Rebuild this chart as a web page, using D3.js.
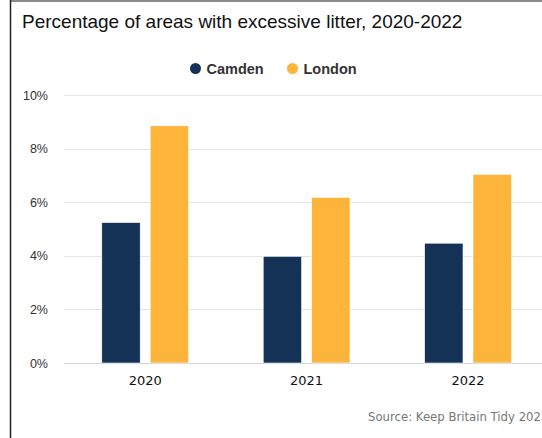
<!DOCTYPE html>
<html><head><meta charset="utf-8">
<script src="https://cdn.jsdelivr.net/npm/d3@7"></script>
<style>body{margin:0;background:#fff}svg{display:block}</style>
</head><body><svg id="c" width="542" height="438"></svg>
<script>
const years = ["2020", "2021", "2022"];
const seriesNames = ["Camden", "London"];
const camden = [5.24, 3.98, 4.47];
const london = [8.85, 6.18, 7.04];
const yTicks = [0, 2, 4, 6, 8, 10];
const colors = ["#133255", "#fdb43a"];
const title = "Percentage of areas with excessive litter, 2020-2022";
const source = "Source: Keep Britain Tidy 2023";

const values = [camden, london];
const svg = d3.select("#c");
const W = 542, H = 438;

// frame
svg.append("line").attr("x1", 10.5).attr("x2", W).attr("y1", 1).attr("y2", 1)
  .attr("stroke", "#8a8a8a").attr("stroke-width", 2);
svg.append("line").attr("x1", 10.5).attr("x2", 10.5).attr("y1", 0).attr("y2", H)
  .attr("stroke", "#222").attr("stroke-width", 1.5);

svg.append("text").attr("x", 22).attr("y", 28).text(title)
  .attr("font-family", "Liberation Sans, Arial, sans-serif").attr("font-size", 19).attr("fill", "#111");

const y = d3.scaleLinear().domain([0, 10]).range([363, 95]);
const x0 = d3.scaleBand().domain(years).range([64.5, 548.7]).padding(0);
const x1 = d3.scaleBand().domain(seriesNames).range([0, x0.bandwidth()]).paddingInner(0.2066).paddingOuter(0.771);

// grid
const g = svg.append("g");
g.selectAll("line.grid").data(yTicks).join("line")
  .attr("x1", 64).attr("x2", W)
  .attr("y1", d => Math.round(y(d)) + 0.5).attr("y2", d => Math.round(y(d)) + 0.5)
  .attr("stroke", d => d === 0 ? "#ccd3df" : "#e4e4e4").attr("stroke-width", 1.2);

// y axis labels
const yAxis = d3.axisLeft(y).tickValues(yTicks).tickFormat(d => d + "%").tickSize(0).tickPadding(0);
const ya = svg.append("g").attr("transform", "translate(48,0)").call(yAxis);
ya.select(".domain").remove();
ya.selectAll("text").attr("font-family", "Liberation Sans, Arial, sans-serif").attr("font-size", 12.5).attr("fill", "#333");

// bars
const groups = svg.append("g").selectAll("g").data(years).join("g")
  .attr("transform", d => `translate(${x0(d)},0)`);
groups.selectAll("rect").data((d, i) => seriesNames.map((s, j) => ({s, v: values[j][i], j}))).join("rect")
  .attr("x", d => x1(d.s)).attr("width", x1.bandwidth())
  .attr("y", d => y(d.v)).attr("height", d => y(0) - y(d.v))
  .attr("fill", d => colors[d.j]).attr("stroke", "#fff").attr("stroke-width", 0.6);

// x axis labels
const xAxis = d3.axisBottom(x0).tickSize(0).tickPadding(0);
const xa = svg.append("g").attr("transform", "translate(0,375)").call(xAxis);
xa.select(".domain").remove();
xa.selectAll("text").attr("font-family", "DejaVu Sans, Verdana, sans-serif").attr("font-size", 13).attr("fill", "#111").attr("dy", "0.75em");

// legend
const legendX = [195.5, 292.5];
const lg = svg.append("g").selectAll("g").data(seriesNames).join("g")
  .attr("transform", (d, i) => `translate(${legendX[i]},68.5)`);
lg.append("circle").attr("r", 5.5).attr("fill", (d, i) => colors[i]);
lg.append("text").attr("x", 11).attr("y", 5).text(d => d)
  .attr("font-family", "Liberation Sans, Arial, sans-serif").attr("font-weight", "bold")
  .attr("font-size", 14.5).attr("fill", "#333");

// source
svg.append("text").attr("x", 368).attr("y", 421).text(source)
  .attr("font-family", "DejaVu Sans, Verdana, sans-serif").attr("font-size", 11.7).attr("fill", "#777");
</script></body></html>
